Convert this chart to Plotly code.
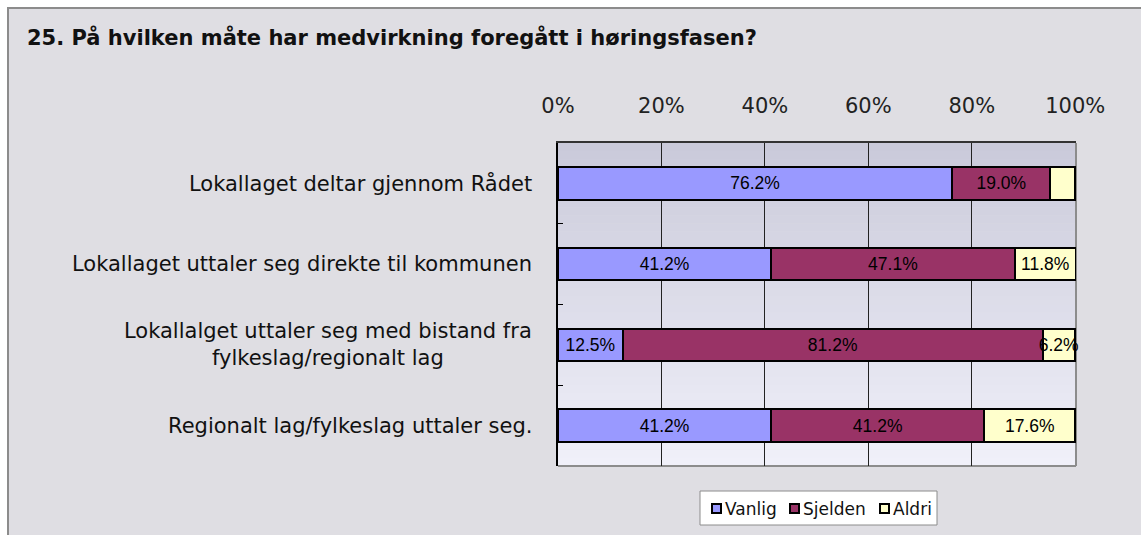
import plotly.graph_objects as go

categories = [
    "Lokallaget deltar gjennom Rådet",
    "Lokallaget uttaler seg direkte til kommunen",
    "Lokallalget uttaler seg med bistand fra<br>fylkeslag/regionalt lag",
    "Regionalt lag/fylkeslag uttaler seg.",
]
series_names = ["Vanlig", "Sjelden", "Aldri"]
vanlig = [76.2, 41.2, 12.5, 41.2]
sjelden = [19.0, 47.1, 81.2, 41.2]
aldri = [4.8, 11.8, 6.2, 17.6]
colors = ["#9999FF", "#993366", "#FFFFCC"]
x_ticks = [0, 20, 40, 60, 80, 100]

title = "25. På hvilken måte har medvirkning foregått i høringsfasen?"

W, H = 1141, 535
ML, MR, MT, MB = 558, 65, 143, 69
PW, PH = W - ML - MR, H - MT - MB


def px_to_paper_x(px):
    return (px - ML) / PW


def px_to_paper_y(py):
    return (H - MB - py) / PH


fig = go.Figure()
for name, vals, col in zip(series_names, [vanlig, sjelden, aldri], colors):
    fig.add_trace(go.Bar(
        name=name,
        y=categories,
        x=vals,
        orientation="h",
        marker=dict(color=col, line=dict(color="black", width=2)),
        text=[f"{v:.1f}%" if v >= 5 else "" for v in vals],
        textposition="inside",
        insidetextanchor="middle",
        constraintext="none",
        textangle=0,
        cliponaxis=False,
        textfont=dict(family="Liberation Sans, Arial", size=17.5, color="black"),
        hoverinfo="skip",
        showlegend=False,
    ))

shapes = []
# outer chart area
shapes.append(dict(type="rect", xref="paper", yref="paper",
                   x0=px_to_paper_x(8), x1=px_to_paper_x(W + 20),
                   y0=px_to_paper_y(H + 20), y1=px_to_paper_y(8),
                   fillcolor="#DFDEE3", line=dict(color="#8C8C8C", width=2),
                   layer="below"))
# gradient plot background
n = 40
top = (202, 202, 218)
bot = (240, 240, 249)
for i in range(n):
    t = i / (n - 1)
    c = tuple(round(top[k] + (bot[k] - top[k]) * t) for k in range(3))
    shapes.append(dict(type="rect", xref="paper", yref="paper",
                       x0=0, x1=1, y0=1 - (i + 1) / n, y1=1 - i / n + 0.001,
                       fillcolor=f"rgb{c}", line=dict(width=0), layer="below"))
# right and bottom plot border (gray)
shapes.append(dict(type="line", xref="paper", yref="paper", x0=1, x1=1, y0=0, y1=1,
                   line=dict(color="#8C8C8C", width=2), layer="below"))
shapes.append(dict(type="line", xref="paper", yref="paper", x0=0, x1=1, y0=0, y1=0,
                   line=dict(color="#8C8C8C", width=2), layer="below"))

annotations = []
for cat in categories:
    annotations.append(dict(
        xref="paper", yref="y", x=px_to_paper_x(534), y=cat,
        text=cat, showarrow=False, xanchor="right", align="center",
        font=dict(family="DejaVu Sans", size=21, color="#111111"),
    ))

# legend (drawn as a compact box like the original)
leg_box = (700, 937, 491, 525)
shapes.append(dict(type="rect", xref="paper", yref="paper",
                   x0=px_to_paper_x(leg_box[0]), x1=px_to_paper_x(leg_box[1]),
                   y0=px_to_paper_y(leg_box[3]), y1=px_to_paper_y(leg_box[2]),
                   fillcolor="white", line=dict(color="#8C8C8C", width=1)))
swatch_x = [712, 790, 880]
for sx, name, col in zip(swatch_x, series_names, colors):
    shapes.append(dict(type="rect", xref="paper", yref="paper",
                       x0=px_to_paper_x(sx), x1=px_to_paper_x(sx + 9),
                       y0=px_to_paper_y(513), y1=px_to_paper_y(504),
                       fillcolor=col, line=dict(color="black", width=2)))
    annotations.append(dict(
        xref="paper", yref="paper", x=px_to_paper_x(sx + 11), y=px_to_paper_y(508.5),
        text=name, showarrow=False, xanchor="left", yanchor="middle",
        font=dict(family="DejaVu Sans", size=17, color="#111111"),
    ))

fig.update_layout(
    width=W, height=H,
    margin=dict(l=ML, r=MR, t=MT, b=MB, pad=0),
    paper_bgcolor="white",
    plot_bgcolor="rgba(0,0,0,0)",
    barmode="stack",
    bargap=0.6,
    shapes=shapes,
    annotations=annotations,
    title=dict(text=f"<b>{title}</b>", x=27 / W, xref="container", xanchor="left",
               y=1 - 38 / H, yref="container", yanchor="middle",
               font=dict(family="DejaVu Sans", size=21, color="#111111")),
    font=dict(family="DejaVu Sans", color="#111111"),
    xaxis=dict(
        side="top", range=[0, 100.15], tickvals=x_ticks,
        ticktext=[f"{v}%" for v in x_ticks],
        tickfont=dict(family="DejaVu Sans", size=21, color="#222222"),
        ticks="outside", ticklen=20, tickcolor="rgba(0,0,0,0)",
        showgrid=True, gridcolor="#222222", gridwidth=1,
        showline=True, linecolor="#333333", linewidth=2,
        zeroline=False, fixedrange=True,
    ),
    yaxis=dict(
        autorange="reversed", showticklabels=False,
        ticks="inside", ticklen=5, tickcolor="black", tickwidth=1,
        tickson="boundaries",
        showline=True, linecolor="black", linewidth=2,
        showgrid=False, zeroline=False, fixedrange=True,
    ),
    showlegend=False,
)

fig.write_html("out.html",
               config={"displayModeBar": False, "staticPlot": True},
               post_script="document.body.style.margin='0px';document.body.style.padding='0px';")
